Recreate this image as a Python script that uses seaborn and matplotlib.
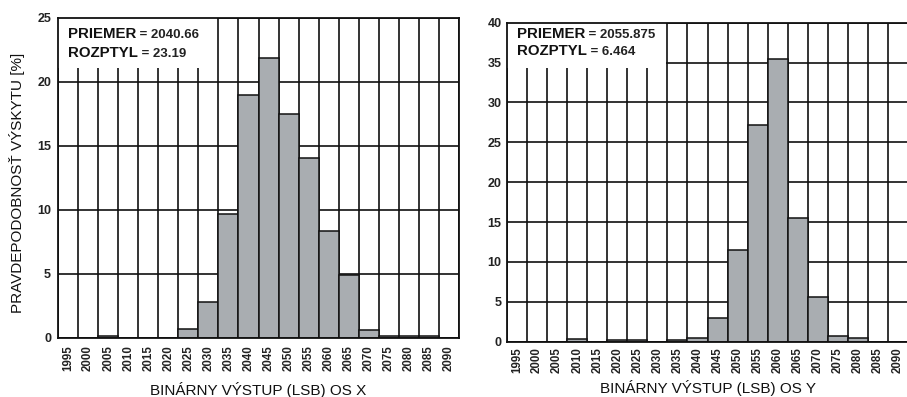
import numpy as np
import matplotlib
matplotlib.use("Agg")
import matplotlib.pyplot as plt
from matplotlib.patches import Rectangle
import seaborn as sns

# Output code bins (LSB) shared by both histograms
bins = [str(v) for v in range(1995, 2095, 5)]

# Probability of occurrence [%] for the X-axis output
prob_x = [0, 0, 0.15, 0, 0, 0, 0.7, 2.8, 9.7, 19.0, 21.9, 17.5, 14.1,
          8.35, 4.9, 0.6, 0.13, 0.13, 0.13, 0]
# Probability of occurrence [%] for the Y-axis output
prob_y = [0, 0, 0, 0.3, 0, 0.25, 0.25, 0, 0.25, 0.5, 3.0, 11.5, 27.2,
          35.5, 15.5, 5.6, 0.75, 0.45, 0, 0]

stats_x = ("2040.66", "23.19")
stats_y = ("2055.875", "6.464")

y_max = [25, 40]
y_ticks = [np.arange(0, 26, 5), np.arange(0, 41, 5)]
box_bottom = [21.1, 34.3]
x_labels = ["BINÁRNY VÝSTUP (LSB) OS X", "BINÁRNY VÝSTUP (LSB) OS Y"]
y_label = "PRAVDEPODOBNOSŤ VÝSKYTU [%]"

sns.set_theme(style="white")
plt.rcParams["font.family"] = ["Liberation Sans", "DejaVu Sans"]

BAR = "#a9adb1"
INK = "#111111"
TXT = "#222222"

fig = plt.figure(figsize=(9.07, 3.97), dpi=100)
fig.patch.set_facecolor("white")
ax_x = fig.add_axes([58 / 907, 1 - 338 / 397, 401 / 907, 320 / 397])
ax_y = fig.add_axes([507 / 907, 1 - 341.7 / 397, 401 / 907, 319 / 397])

text_pos = [(0.9375, 0.878), (0.952, 0.899)]
xlabel_y = [-0.178, -0.16]
ytick_pad = [5, 4]
xtick_pad = [5, 4]

for i, (ax, vals, stats) in enumerate(zip([ax_x, ax_y], [prob_x, prob_y],
                                          [stats_x, stats_y])):
    sns.barplot(x=bins, y=vals, order=bins, color=BAR, saturation=1,
                width=1.0, edgecolor=INK, linewidth=1.1, ax=ax, zorder=2)
    ax.set_xlim(-0.5, len(bins) - 0.5)
    ax.set_ylim(0, y_max[i])
    ax.set_yticks(y_ticks[i])
    ax.set_xticks(np.arange(-0.5, len(bins), 1), minor=True)
    ax.set_axisbelow(True)
    ax.grid(False)
    ax.xaxis.grid(True, which="minor", color=INK, linewidth=1.2)
    ax.yaxis.grid(True, which="major", color=INK, linewidth=1.2)
    for s in ax.spines.values():
        s.set_visible(True)
        s.set_color(INK)
        s.set_linewidth(1.3)
    ax.tick_params(axis="both", which="both", length=0)
    ax.tick_params(axis="x", which="major", pad=xtick_pad[i], labelrotation=90)
    ax.tick_params(axis="y", pad=ytick_pad[i])
    for lab in ax.get_xticklabels():
        lab.set_fontsize(8.3)
        lab.set_fontweight("bold")
        lab.set_color(TXT)
        lab.set_verticalalignment("top")
    for lab in ax.get_yticklabels():
        lab.set_fontsize(9)
        lab.set_fontweight("bold")
        lab.set_color(TXT)

    # white panel behind the statistics text
    ax.add_patch(Rectangle((-0.5, box_bottom[i]), 7.95, y_max[i] - box_bottom[i],
                           facecolor="white", edgecolor="none", zorder=1))
    t1 = ax.text(0.025, text_pos[i][0], "PRIEMER", transform=ax.transAxes,
                 fontsize=10.8, fontweight="bold", color=INK, va="baseline", zorder=5)
    ax.annotate(" = " + stats[0], xy=(1, 0), xycoords=t1, fontsize=9.5,
                fontweight="bold", color=TXT, va="bottom", zorder=5)
    t2 = ax.text(0.025, text_pos[i][1], "ROZPTYL", transform=ax.transAxes,
                 fontsize=10.8, fontweight="bold", color=INK, va="baseline", zorder=5)
    ax.annotate(" = " + stats[1], xy=(1, 0), xycoords=t2, fontsize=9.5,
                fontweight="bold", color=TXT, va="bottom", zorder=5)

    ax.set_xlabel(x_labels[i], fontsize=11, color=INK)
    ax.xaxis.label.set_verticalalignment("baseline")
    ax.xaxis.set_label_coords(0.5, xlabel_y[i])

ax_x.set_ylabel(y_label, fontsize=11, color=INK)
ax_x.yaxis.label.set_verticalalignment("center")
ax_x.yaxis.set_label_coords(-0.102, 0.486)
ax_y.set_ylabel("")

fig.savefig("out.png", dpi=100, facecolor="white")
